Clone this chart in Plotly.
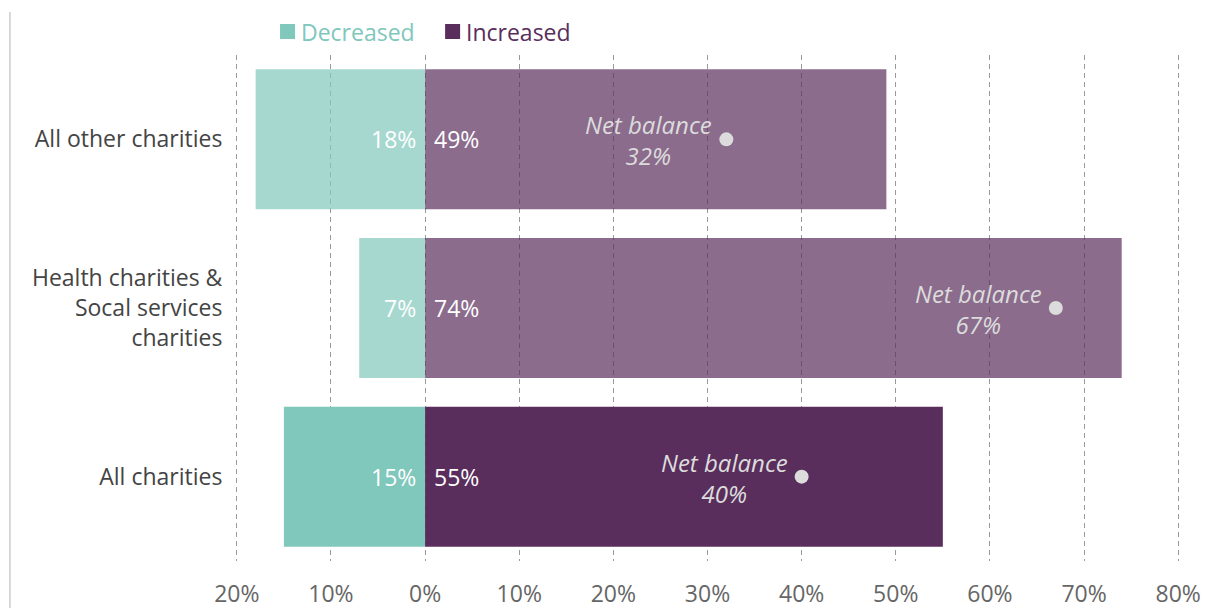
import plotly.graph_objects as go

# Share of charities reporting a change, by group
categories = ["All charities",
              "Health charities &<br>Socal services<br>charities",
              "All other charities"]
decreased = [15, 7, 18]
increased = [55, 74, 49]
net_balance = [40, 67, 32]

tick_vals = [-20, -10, 0, 10, 20, 30, 40, 50, 60, 70, 80]
tick_text = ["20%", "10%", "0%", "10%", "20%", "30%", "40%", "50%", "60%", "70%", "80%"]

TEAL = "#80C7BC"
PURPLE = "#5A2E5C"
TEAL_SOFT = "rgba(128,199,188,0.7)"
PURPLE_SOFT = "rgba(90,46,92,0.7)"
FONT = "Open Sans"

dec_colors = [TEAL, TEAL_SOFT, TEAL_SOFT]
inc_colors = [PURPLE, PURPLE_SOFT, PURPLE_SOFT]

# x-axis runs a little past -20 / 80 so the outer gridlines are drawn
X_MIN, X_MAX = -20.3, 80.3
PX_PER_UNIT = 9.41
L = 425 + X_MIN * PX_PER_UNIT
R = 425 + X_MAX * PX_PER_UNIT
T, B = 55, 561

def px_x(px):
    return (px - L) / (R - L)
def px_y(py):
    return (B - py) / (B - T)

fig = go.Figure()

fig.add_trace(go.Bar(
    y=categories, x=[-v for v in decreased], orientation="h",
    marker=dict(color=dec_colors, line=dict(width=0)),
    width=0.83, showlegend=False, hoverinfo="skip",
))
fig.add_trace(go.Bar(
    y=categories, x=increased, orientation="h",
    marker=dict(color=inc_colors, line=dict(width=0)),
    width=0.83, showlegend=False, hoverinfo="skip",
))
fig.add_trace(go.Scatter(
    y=categories, x=net_balance, mode="markers",
    marker=dict(color="#DCDCDC", size=14, line=dict(width=0)),
    showlegend=False, hoverinfo="skip",
))

# Value labels next to the zero line
for cat, d, i, n in zip(categories, decreased, increased, net_balance):
    fig.add_annotation(x=0, y=cat, text=f"{d}%", showarrow=False,
                       xanchor="right", xshift=-7,
                       font=dict(family=FONT, size=23, color="white"))
    fig.add_annotation(x=0, y=cat, text=f"{i}%", showarrow=False,
                       xanchor="left", xshift=7,
                       font=dict(family=FONT, size=23, color="white"))
    fig.add_annotation(x=n, y=cat, text=f"<i>Net balance<br>{n}%</i>",
                       showarrow=False, xanchor="right", xshift=-12, yshift=-1,
                       align="center",
                       font=dict(family=FONT, size=24, color="#DCDCDC"))

# Legend: coloured squares with matching labels
legend_items = [("Decreased", TEAL, 280), ("Increased", PURPLE, 445)]
for label, color, x0 in legend_items:
    fig.add_shape(type="rect", xref="paper", yref="paper",
                  x0=px_x(x0), x1=px_x(x0 + 15), y0=px_y(39), y1=px_y(24),
                  fillcolor=color, line=dict(width=0))
    fig.add_annotation(xref="paper", yref="paper", x=px_x(x0 + 19), y=px_y(32),
                       text=label, showarrow=False, xanchor="left",
                       yanchor="middle",
                       font=dict(family=FONT, size=23, color=color))

# Thin rule along the left edge
fig.add_shape(type="line", xref="paper", yref="paper",
              x0=px_x(10), x1=px_x(10), y0=px_y(620), y1=px_y(12),
              line=dict(color="#CCCCCC", width=1.5))

fig.update_layout(
    width=1206, height=608,
    margin=dict(l=L, r=1206 - R, t=T, b=608 - B),
    barmode="relative",
    plot_bgcolor="white", paper_bgcolor="white",
    font=dict(family=FONT, size=23, color="#444444"),
    showlegend=False,
    xaxis=dict(range=[X_MIN, X_MAX], tickvals=tick_vals, ticktext=tick_text,
               showgrid=True, gridcolor="#9A9A9A", griddash="5px,4px", gridwidth=1,
               zeroline=False, showline=False, automargin=False,
               ticks="outside", ticklen=12, tickcolor="rgba(0,0,0,0)",
               tickfont=dict(family=FONT, size=23, color="#666666"),
               fixedrange=True),
    yaxis=dict(categoryorder="array", categoryarray=categories,
               range=[-0.5, 2.5], showgrid=False, zeroline=False,
               automargin=False,
               ticks="outside", ticklen=6, tickcolor="rgba(0,0,0,0)",
               tickfont=dict(family=FONT, size=23, color="#444444"),
               fixedrange=True),
)

fig.write_html("out.html")
